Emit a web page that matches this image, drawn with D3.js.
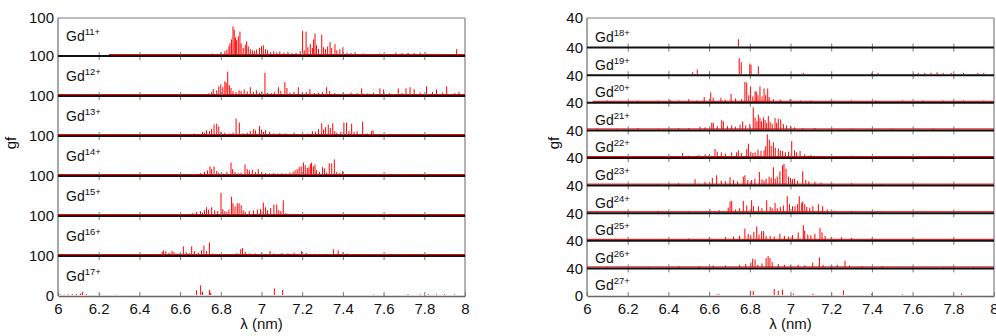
<!DOCTYPE html>
<html>
<head>
<meta charset="utf-8">
<script src="https://cdn.jsdelivr.net/npm/d3@7"></script>
<style>
  body { margin: 0; background: #fff; }
  svg { display: block; font-family: "Liberation Sans", Arial, sans-serif; }
</style>
</head>
<body>
<svg id="chart" width="996" height="336"></svg>
<script>
// x axis (wavelength, nm)
const xTicks = [6, 6.2, 6.4, 6.6, 6.8, 7, 7.2, 7.4, 7.6, 7.8, 8];
const xTickLabels = ['6', '6.2', '6.4', '6.6', '6.8', '7', '7.2', '7.4', '7.6', '7.8', '8'];

// ions, top to bottom
const ionsLeft = ['11+', '12+', '13+', '14+', '15+', '16+', '17+'];
const ionsRight = ['18+', '19+', '20+', '21+', '22+', '23+', '24+', '25+', '26+', '27+'];
const yLabelsLeft = ['100', '100', '100', '100', '100', '100', '100', '0'];
const yLabelsRight = ['40', '40', '40', '40', '40', '40', '40', '40', '40', '40', '0'];
const gfMaxLeft = 100;
const gfMaxRight = 40;

// [wavelength nm, gf]
const gd11 = [[6.27,1],[6.31,1],[6.36,1],[6.41,1],[6.55,1],[6.63,1],[6.72,2],[6.76,4],[6.78,3],[6.80,6],[6.82,10],[6.83,14],[6.84,22],[6.845,30],[6.853,40],[6.86,73],[6.866,65],[6.872,45],[6.878,38],[6.886,48],[6.894,60],[6.90,30],[6.91,18],[6.92,26],[6.927,35],[6.935,22],[6.945,15],[6.955,12],[6.965,10],[6.975,14],[6.99,18],[7.00,22],[7.009,25],[7.02,15],[7.03,12],[7.045,8],[7.06,10],[7.075,7],[7.09,9],[7.11,6],[7.13,8],[7.15,5],[7.17,6],[7.19,10],[7.202,62],[7.21,12],[7.219,60],[7.228,20],[7.24,28],[7.25,18],[7.256,40],[7.263,55],[7.27,25],[7.28,15],[7.296,52],[7.305,20],[7.315,15],[7.325,22],[7.337,33],[7.345,18],[7.361,28],[7.37,12],[7.385,15],[7.40,20],[7.42,6],[7.44,5],[7.46,7],[7.50,4],[7.54,3],[7.58,4],[7.62,3],[7.66,6],[7.69,5],[7.72,6],[7.75,5],[7.78,6],[7.81,4],[7.85,3],[7.90,2],[7.959,15],[7.98,3]];
const gd12 = [[6.05,1],[6.20,1],[6.35,1],[6.50,1],[6.62,1],[6.72,2],[6.74,4],[6.755,8],[6.763,15],[6.78,12],[6.79,22],[6.80,27],[6.81,20],[6.82,35],[6.826,32],[6.834,60],[6.842,25],[6.85,18],[6.86,10],[6.875,8],[6.89,12],[6.90,10],[6.915,14],[6.93,9],[6.945,20],[6.96,8],[6.975,12],[6.99,6],[7.00,9],[7.017,57],[7.03,6],[7.05,5],[7.065,8],[7.083,20],[7.095,10],[7.115,33],[7.125,18],[7.14,6],[7.16,8],[7.181,20],[7.20,6],[7.22,8],[7.238,15],[7.26,5],[7.28,6],[7.30,8],[7.32,20],[7.335,10],[7.36,5],[7.40,4],[7.44,6],[7.47,5],[7.492,17],[7.52,4],[7.55,6],[7.582,17],[7.60,14],[7.63,5],[7.672,17],[7.69,5],[7.71,17],[7.73,20],[7.75,15],[7.78,6],[7.811,22],[7.84,8],[7.86,14],[7.89,6],[7.91,22],[7.95,5],[7.97,8]];
const gd13 = [[6.05,1],[6.30,1],[6.50,1],[6.60,1],[6.649,3],[6.67,4],[6.69,3],[6.71,8],[6.72,6],[6.73,12],[6.745,10],[6.755,16],[6.767,27],[6.78,29],[6.79,22],[6.80,8],[6.82,6],[6.84,4],[6.86,6],[6.875,42],[6.891,32],[6.91,5],[6.93,6],[6.945,10],[6.96,15],[6.97,12],[6.99,23],[7.00,14],[7.01,8],[7.02,12],[7.04,8],[7.06,4],[7.09,5],[7.12,4],[7.16,6],[7.20,3],[7.23,4],[7.25,10],[7.265,8],[7.28,15],[7.296,30],[7.305,14],[7.315,20],[7.328,27],[7.338,18],[7.35,30],[7.36,10],[7.37,6],[7.39,8],[7.405,32],[7.418,32],[7.43,10],[7.443,29],[7.455,8],[7.47,10],[7.497,34],[7.52,4],[7.541,10],[7.548,12],[7.60,2],[7.70,1],[7.80,1]];
const gd14 = [[6.10,1],[6.40,1],[6.649,2],[6.68,3],[6.70,5],[6.72,8],[6.735,12],[6.747,22],[6.755,15],[6.767,22],[6.78,10],[6.79,6],[6.81,4],[6.83,8],[6.85,32],[6.858,15],[6.87,8],[6.885,5],[6.90,6],[6.919,27],[6.93,15],[6.94,12],[6.955,14],[6.97,8],[6.984,15],[7.00,6],[7.02,5],[7.04,4],[7.06,5],[7.08,4],[7.10,5],[7.12,4],[7.14,6],[7.155,8],[7.165,12],[7.175,15],[7.185,20],[7.195,22],[7.206,32],[7.215,25],[7.225,18],[7.233,20],[7.24,28],[7.246,32],[7.255,22],[7.263,27],[7.27,12],[7.285,8],[7.30,20],[7.31,17],[7.32,6],[7.333,30],[7.345,30],[7.358,40],[7.37,8],[7.385,5],[7.399,10],[7.41,2]];
const gd15 = [[6.20,1],[6.50,1],[6.61,2],[6.64,3],[6.66,5],[6.68,8],[6.70,10],[6.71,6],[6.72,12],[6.73,20],[6.74,14],[6.755,20],[6.77,12],[6.785,10],[6.801,57],[6.81,15],[6.82,10],[6.83,8],[6.84,14],[6.853,47],[6.86,30],[6.87,22],[6.881,30],[6.89,30],[6.90,25],[6.91,12],[6.92,8],[6.94,10],[6.96,12],[6.98,14],[6.995,15],[7.009,32],[7.02,20],[7.03,12],[7.045,18],[7.061,27],[7.075,27],[7.085,12],[7.095,10],[7.107,38],[7.12,5],[7.14,3],[7.197,2],[7.386,2],[7.50,1],[7.72,2],[7.75,1],[7.83,1],[7.92,1]];
const gd16 = [[6.10,1],[6.30,1],[6.512,8],[6.518,12],[6.53,10],[6.545,6],[6.56,10],[6.57,8],[6.58,4],[6.60,5],[6.616,22],[6.63,8],[6.645,5],[6.657,22],[6.67,10],[6.69,6],[6.705,12],[6.717,24],[6.73,10],[6.744,32],[6.76,4],[6.80,3],[6.85,2],[6.88,5],[6.898,15],[6.907,18],[6.92,8],[6.94,4],[6.97,4],[7.00,5],[7.042,10],[7.06,4],[7.10,5],[7.13,4],[7.16,6],[7.197,10],[7.22,5],[7.26,3],[7.30,2],[7.353,15],[7.377,12],[7.40,6],[7.42,4],[7.45,2],[7.50,2],[7.60,2],[7.70,2],[7.80,2],[7.90,2]];
const gd17 = [[6.01,2],[6.03,1],[6.05,2],[6.07,2],[6.09,3],[6.11,4],[6.121,8],[6.14,2],[6.206,2],[6.28,1],[6.681,12],[6.701,25],[6.71,8],[6.744,13],[6.75,6],[7.063,17],[7.104,13],[7.55,1],[7.60,1],[7.72,2],[7.78,2],[7.82,2],[7.86,2],[7.90,2],[7.95,2]];

const gd18 = [[6.744,11]];
const gd19 = [[6.519,3],[6.542,7],[6.601,2],[6.748,24],[6.758,18],[6.80,16],[6.806,14],[6.842,12],[7.063,2],[7.40,2],[7.43,2],[7.628,2],[7.66,2],[7.69,2],[7.72,3],[7.75,2],[7.79,2],[7.85,2],[7.92,2],[7.95,2]];
const gd20 = [[6.03,1],[6.10,2],[6.16,1],[6.25,2],[6.30,1],[6.35,2],[6.408,3],[6.45,2],[6.50,4],[6.54,2],[6.576,7],[6.608,14],[6.62,6],[6.658,6],[6.68,3],[6.708,12],[6.73,5],[6.76,4],[6.776,30],[6.785,29],[6.795,10],[6.804,23],[6.815,8],[6.826,16],[6.832,15],[6.84,10],[6.85,23],[6.86,8],[6.87,20],[6.878,10],[6.888,20],[6.895,7],[6.916,4],[6.95,3],[6.998,4],[7.05,2],[7.10,2],[7.20,2],[7.30,2],[7.42,2],[7.55,2],[7.65,2],[7.75,2],[7.85,2],[7.95,2]];
const gd21 = [[6.05,1],[6.15,1],[6.25,2],[6.35,1],[6.45,2],[6.50,2],[6.555,4],[6.58,3],[6.613,10],[6.621,10],[6.64,5],[6.662,14],[6.67,12],[6.69,5],[6.711,6],[6.73,4],[6.752,7],[6.765,12],[6.78,6],[6.80,8],[6.817,33],[6.826,18],[6.835,12],[6.842,22],[6.85,17],[6.858,12],[6.867,18],[6.875,14],[6.883,10],[6.891,20],[6.90,11],[6.91,8],[6.924,17],[6.932,10],[6.94,16],[6.952,15],[6.965,8],[6.981,6],[7.00,5],[7.02,3],[7.06,2],[7.12,2],[7.20,1],[7.30,1],[7.50,1],[7.70,1]];
const gd22 = [[6.05,1],[6.15,1],[6.30,1],[6.40,2],[6.47,6],[6.50,2],[6.55,3],[6.58,4],[6.60,3],[6.629,12],[6.64,8],[6.66,7],[6.68,5],[6.711,7],[6.735,7],[6.744,10],[6.76,6],[6.785,12],[6.793,20],[6.805,8],[6.815,6],[6.826,7],[6.84,11],[6.855,9],[6.87,10],[6.878,16],[6.886,34],[6.896,26],[6.905,17],[6.916,22],[6.925,14],[6.94,13],[6.95,10],[6.961,9],[6.975,7],[6.99,8],[7.006,24],[7.02,10],[7.03,7],[7.047,9],[7.07,4],[7.10,3],[7.15,2],[7.20,1],[7.30,2],[7.50,1],[7.70,1],[7.90,1]];
const gd23 = [[6.05,1],[6.20,1],[6.35,1],[6.45,2],[6.531,8],[6.58,4],[6.616,10],[6.637,14],[6.66,6],[6.68,5],[6.703,11],[6.72,7],[6.74,5],[6.768,12],[6.776,14],[6.79,7],[6.809,7],[6.825,9],[6.847,19],[6.86,8],[6.87,6],[6.88,9],[6.895,12],[6.905,10],[6.916,26],[6.925,9],[6.935,12],[6.948,20],[6.961,29],[6.968,31],[6.978,24],[6.99,12],[7.00,10],[7.01,8],[7.02,9],[7.035,6],[7.06,20],[7.075,7],[7.09,5],[7.12,4],[7.15,3],[7.20,2],[7.30,2],[7.45,1],[7.60,1],[7.80,1]];
const gd24 = [[6.05,1],[6.20,1],[6.35,2],[6.50,1],[6.604,4],[6.65,3],[6.694,7],[6.703,16],[6.711,17],[6.73,4],[6.75,6],[6.768,17],[6.785,10],[6.809,18],[6.818,9],[6.842,9],[6.86,6],[6.883,18],[6.90,8],[6.91,6],[6.924,14],[6.935,6],[6.95,8],[6.965,10],[6.984,24],[6.995,12],[7.01,9],[7.022,9],[7.035,12],[7.043,24],[7.055,14],[7.06,16],[7.07,12],[7.08,8],[7.095,7],[7.11,9],[7.137,12],[7.158,9],[7.18,4],[7.22,2],[7.30,2],[7.45,1],[7.60,1],[7.80,1]];
const gd25 = [[6.05,1],[6.20,1],[6.40,1],[6.50,2],[6.60,3],[6.68,4],[6.72,5],[6.75,6],[6.776,17],[6.792,9],[6.805,7],[6.82,12],[6.834,20],[6.845,8],[6.858,13],[6.868,13],[6.88,6],[6.90,6],[6.92,5],[6.948,9],[6.97,6],[6.99,5],[7.01,7],[7.038,11],[7.063,22],[7.07,14],[7.085,8],[7.10,7],[7.12,9],[7.145,18],[7.155,11],[7.17,6],[7.20,4],[7.25,4],[7.30,3],[7.40,2],[7.60,1],[7.80,1]];
const gd26 = [[6.10,1],[6.30,1],[6.45,2],[6.55,2],[6.62,3],[6.68,3],[6.75,4],[6.78,5],[6.805,7],[6.814,13],[6.826,12],[6.84,4],[6.86,6],[6.88,14],[6.89,17],[6.899,14],[6.91,8],[6.94,5],[6.97,4],[7.00,3],[7.038,4],[7.07,3],[7.109,7],[7.142,15],[7.16,4],[7.20,3],[7.23,4],[7.268,10],[7.29,3],[7.35,2],[7.45,2],[7.60,1],[7.75,1],[7.90,1]];
const gd27 = [[6.64,1],[6.65,1],[6.804,6],[6.817,6],[6.92,9],[6.94,6],[6.961,8],[7.014,2],[7.11,2],[7.202,2],[7.26,7],[7.399,2],[7.55,1],[7.80,1],[7.84,2]];

// wavelength span covered by the dense floor of very weak lines (null = none)
const weakLeft = [[6.25, 8], [6, 8], [6, 8], [6, 8], [6, 8], [6, 8], null];
const weakRight = [null, null, [6.03, 8], [6, 8], [6, 8], [6, 8], [6, 8], [6, 8], [6, 8], null];

const svg = d3.select('#chart');
const bottom = 296;

function drawStack(cfg) {
  const g = svg.append('g');
  const x = d3.scaleLinear().domain([6, 8]).range([cfg.left, cfg.right]);
  const band = d3.scaleBand().domain(cfg.ions).range([cfg.top, bottom]);
  const h = band.bandwidth();
  const y = d3.scaleLinear().domain([0, cfg.gfMax]).range([h - 1, 0]);

  // outer frame
  g.append('line').attr('x1', cfg.left).attr('x2', cfg.right).attr('y1', 18).attr('y2', 18)
    .attr('stroke', '#a6a6a6').attr('stroke-width', 1.5);
  g.append('line').attr('x1', cfg.right).attr('x2', cfg.right).attr('y1', 18).attr('y2', bottom)
    .attr('stroke', '#999').attr('stroke-width', 1.5);
  g.append('line').attr('x1', cfg.left).attr('x2', cfg.left).attr('y1', 18).attr('y2', bottom)
    .attr('stroke', '#888').attr('stroke-width', 1.5);

  cfg.ions.forEach((ion, i) => {
    const p = g.append('g').attr('transform', `translate(0,${band(ion)})`);
    const w = cfg.weak[i];
    if (w) {
      p.append('line').attr('x1', x(w[0])).attr('x2', x(w[1]))
        .attr('y1', h - 1.5).attr('y2', h - 1.5)
        .attr('stroke', '#ff0000').attr('stroke-width', 1);
    }
    p.selectAll('line.gf').data(cfg.lines[i]).join('line')
      .attr('class', 'gf')
      .attr('x1', d => x(d[0])).attr('x2', d => x(d[0]))
      .attr('y1', y(0)).attr('y2', d => y(d[1]))
      .attr('stroke', '#ff0000').attr('stroke-width', 1);

    const t = p.append('text').attr('x', cfg.left + 8).attr('y', cfg.labelDy)
      .attr('fill', '#111').style('font-size', '14px');
    t.append('tspan').text('Gd');
    t.append('tspan').attr('dy', -6).style('font-size', '9.5px').text(ion);
  });

  // separators with inside ticks
  cfg.ions.slice(1).forEach(ion => {
    const yy = band(ion);
    const ax = g.append('g').attr('transform', `translate(0,${yy - 4})`)
      .call(d3.axisBottom(x).tickValues(xTicks.slice(1, -1)).tickSize(8).tickFormat(''));
    ax.select('.domain').remove();
    ax.selectAll('.tick line').attr('stroke', '#777');
    g.append('line').attr('x1', cfg.left).attr('x2', cfg.right).attr('y1', yy).attr('y2', yy)
      .attr('stroke', '#111').attr('stroke-width', 2);
  });

  // bottom axis
  const xa = g.append('g').attr('transform', `translate(0,${bottom})`)
    .call(d3.axisBottom(x).tickValues(xTicks).tickSizeInner(-4).tickSizeOuter(0)
      .tickPadding(7).tickFormat((d, i) => xTickLabels[i]));
  xa.select('.domain').attr('stroke', '#666').attr('stroke-width', 1.5);
  xa.selectAll('.tick line').attr('stroke', '#777');
  xa.selectAll('text').attr('fill', '#111').style('font-size', '15px')
    .style('font-family', '"Liberation Sans", Arial, sans-serif');

  // y labels at each panel boundary
  const yPos = cfg.ions.map(ion => band(ion)).concat([bottom]);
  yPos[0] = 18;
  g.selectAll('text.ylab').data(cfg.yLabels).join('text')
    .attr('class', 'ylab')
    .attr('x', cfg.left - 4).attr('y', (d, i) => yPos[i]).attr('dy', '0.36em')
    .attr('text-anchor', 'end').attr('fill', '#111').style('font-size', '15px')
    .text(d => d);

  // axis titles
  g.append('text').attr('transform', `translate(${cfg.gfX},143) rotate(-90)`)
    .attr('text-anchor', 'middle').attr('fill', '#111').style('font-size', '15px').text('gf');
  g.append('text').attr('x', x(7)).attr('y', 329)
    .attr('text-anchor', 'middle').attr('fill', '#111').style('font-size', '15px').text('λ (nm)');
}

drawStack({
  left: 58, right: 465, top: 16, ions: ionsLeft, gfMax: gfMaxLeft,
  lines: [gd11, gd12, gd13, gd14, gd15, gd16, gd17],
  weak: weakLeft, yLabels: yLabelsLeft, labelDy: 24.5, gfX: 16
});
drawStack({
  left: 587, right: 994, top: 20, ions: ionsRight, gfMax: gfMaxRight,
  lines: [gd18, gd19, gd20, gd21, gd22, gd23, gd24, gd25, gd26, gd27],
  weak: weakRight, yLabels: yLabelsRight, labelDy: 22, gfX: 559
});
</script>
</body>
</html>
